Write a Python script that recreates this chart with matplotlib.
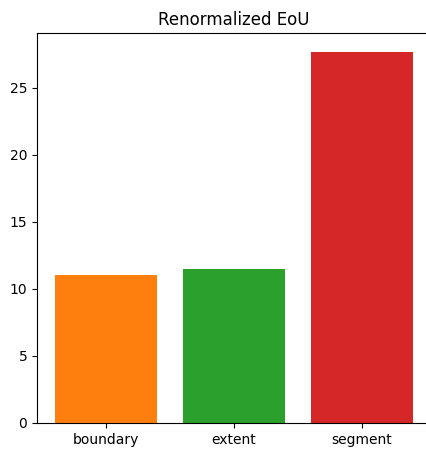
import matplotlib
matplotlib.use("Agg")
import matplotlib.pyplot as plt

categories = ["boundary", "extent", "segment"]
values = [11.0, 11.45, 27.68]
colors = ["tab:orange", "tab:green", "tab:red"]

fig = plt.figure(figsize=(4.26, 4.49), dpi=100)
# axes runs slightly past the right edge, as in the reference
ax = fig.add_axes([37 / 426, 26 / 449, 394 / 426, 390 / 449])
ax.bar(categories, values, color=colors, width=0.8)
ax.set_title("Renormalized EoU")
ax.set_xlim(-0.54, 2.54)

fig.savefig("out.png", dpi=100)
